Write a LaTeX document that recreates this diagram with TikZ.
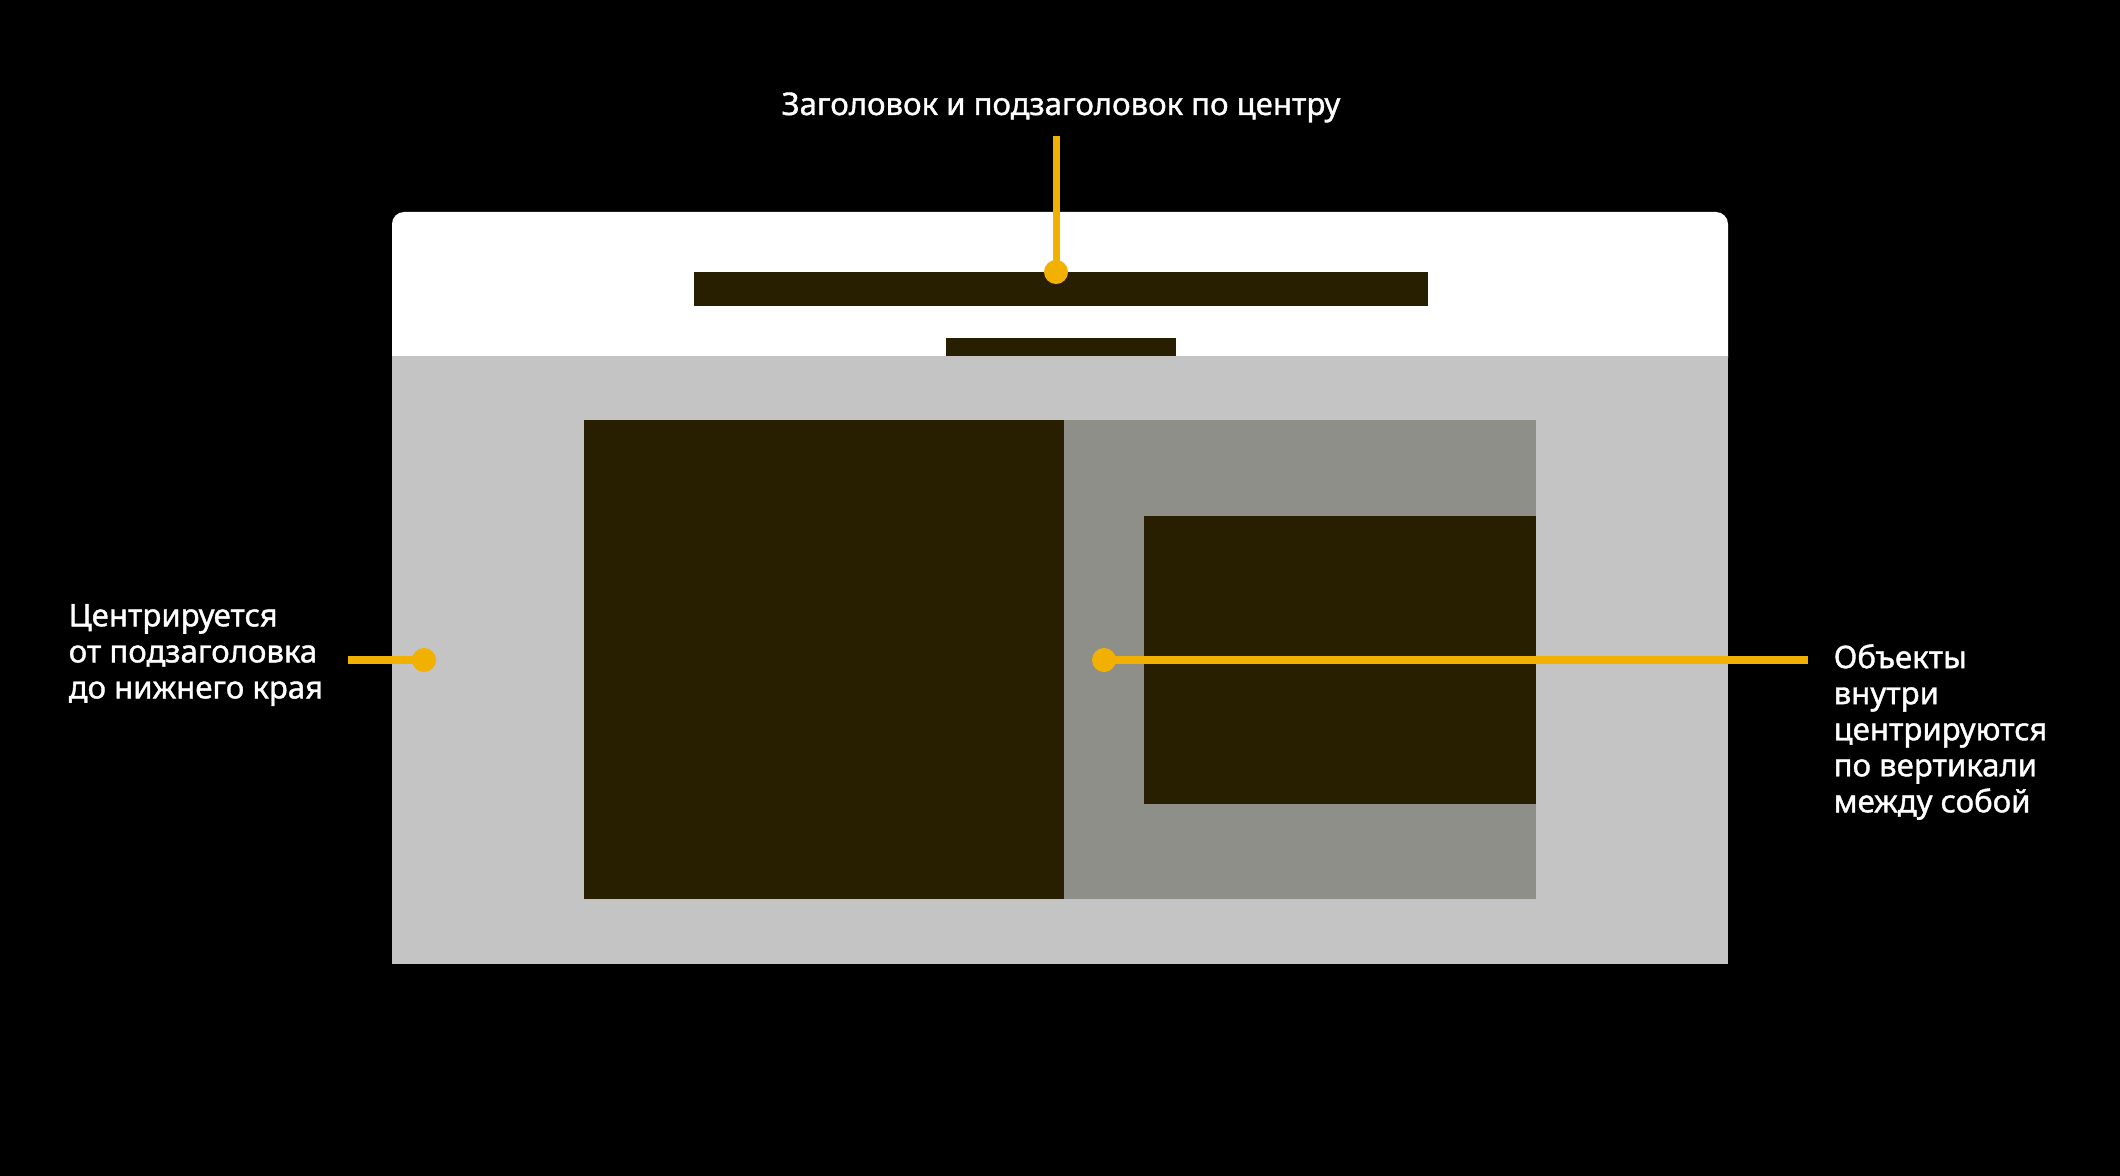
\documentclass[tikz,border=0pt]{standalone}
\usepackage{fontspec}
\setmainfont{Noto Sans}[FakeBold=1.2]
\usetikzlibrary{positioning}
\definecolor{inkdark}{HTML}{281E00}
\definecolor{panelgray}{HTML}{C4C4C4}
\definecolor{midgray}{HTML}{8F8F89}
\definecolor{markyellow}{HTML}{F2B100}

\begin{document}
\begin{tikzpicture}[x=0.01cm,y=-0.01cm,
  lbl/.style={text=white,font=\fontsize{8.85}{10.25}\selectfont,inner sep=0pt,align=left},
  pin/.style={circle,fill=markyellow,minimum size=0.24cm,inner sep=0pt},
  lead/.style={markyellow,line width=0.07cm}]
\fill[black] (0,0) rectangle (2120,1176);
\useasboundingbox (0,0) rectangle (2120,1176);
\fill[white,rounded corners=0.12cm] (392,212) rectangle (1728,370);
\fill[panelgray] (392,356) rectangle (1728,964);
\fill[inkdark] (694,272) rectangle (1428,306);
\fill[inkdark] (946,338) rectangle (1176,356);
\fill[midgray] (1064,420) rectangle (1536,899);
\fill[inkdark] (584,420) rectangle (1064,899);
\fill[inkdark] (1144,516) rectangle (1536,804);
\node[lbl,anchor=base] (ttl) at (1061,115) {Заголовок и подзаголовок по центру};
\node[lbl,anchor=west] (lft) at (68,655) {Центрируется\\от подзаголовка\\до нижнего края};
\node[lbl,anchor=west] (rgt) at (1833,732) {Объекты\\внутри\\центрируются\\по вертикали\\между собой};
\node[pin] (p1) at (1056,272) {};
\node[pin] (p2) at (424,660) {};
\node[pin] (p3) at (1104,660) {};
\coordinate (e1) at (1056,136);
\coordinate (e2) at (348,660);
\coordinate (e3) at (1808,660);
\foreach \a/\b in {e1/p1,e2/p2,e3/p3} \draw[lead] (\a)--(\b.center);
\end{tikzpicture}
\end{document}
